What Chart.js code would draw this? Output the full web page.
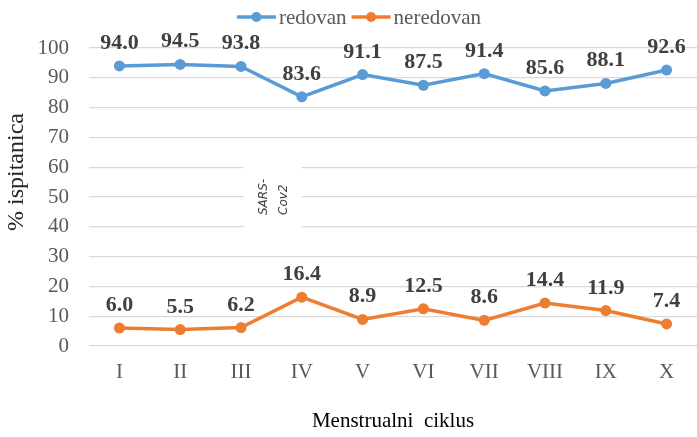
<!DOCTYPE html>
<html>
<head>
<meta charset="utf-8">
<script src="https://cdn.jsdelivr.net/npm/chart.js@4/dist/chart.umd.min.js"></script>
<style>
  html, body { margin: 0; padding: 0; background: #fff; }
  #wrap { width: 697px; height: 437px; }
</style>
</head>
<body>
<div id="wrap"><canvas id="c" width="697" height="437"></canvas></div>
<script>
const categories = ["I", "II", "III", "IV", "V", "VI", "VII", "VIII", "IX", "X"];
const redovan = [94.0, 94.5, 93.8, 83.6, 91.1, 87.5, 91.4, 85.6, 88.1, 92.6];
const neredovan = [6.0, 5.5, 6.2, 16.4, 8.9, 12.5, 8.6, 14.4, 11.9, 7.4];
const seriesNames = ["redovan", "neredovan"];
const yTicks = [0, 10, 20, 30, 40, 50, 60, 70, 80, 90, 100];
const xTitle = "Menstrualni  ciklus";
const yTitle = "% ispitanica";
const noteLines = ["SARS-", "Cov2"];

const BLUE = "#5B9BD5";
const ORANGE = "#ED7D31";
const SERIF = "'Liberation Serif', 'Times New Roman', serif";

const extras = {
  id: "extras",
  afterDatasetsDraw(chart) {
    const ctx = chart.ctx;
    const xs = chart.scales.x, ys = chart.scales.y;
    // SARS-Cov2 note box
    const cx = (xs.getPixelForValue(2) + xs.getPixelForValue(3)) / 2 + 1;
    const yTop = ys.getPixelForValue(67), yBot = ys.getPixelForValue(33);
    ctx.save();
    ctx.fillStyle = "#ffffff";
    ctx.fillRect(cx - 29, yTop, 58, yBot - yTop);
    ctx.translate(cx, ys.getPixelForValue(50));
    ctx.rotate(-Math.PI / 2);
    ctx.fillStyle = "#404040";
    ctx.font = "italic 12px 'DejaVu Sans', 'Noto Sans', sans-serif";
    ctx.textAlign = "left";
    ctx.textBaseline = "middle";
    ctx.fillText(noteLines[0], -18, -9);
    ctx.fillText(noteLines[1], -18, 11);
    ctx.restore();

    // data labels
    ctx.save();
    ctx.font = "bold 22px " + SERIF;
    ctx.fillStyle = "#404040";
    ctx.textAlign = "center";
    ctx.textBaseline = "alphabetic";
    chart.data.datasets.forEach((ds, di) => {
      const meta = chart.getDatasetMeta(di);
      meta.data.forEach((pt, i) => {
        ctx.fillText(ds.data[i].toFixed(1), pt.x, pt.y - 17);
      });
    });
    ctx.restore();
  },
  afterDraw(chart) {
    const ctx = chart.ctx;
    // y title
    ctx.save();
    ctx.translate(17, 172);
    ctx.rotate(-Math.PI / 2);
    ctx.font = "24px " + SERIF;
    ctx.fillStyle = "#262626";
    ctx.textAlign = "center";
    ctx.textBaseline = "middle";
    ctx.fillText(yTitle, 0, 0);
    ctx.restore();

    // legend
    ctx.save();
    ctx.font = "21px " + SERIF;
    ctx.textBaseline = "middle";
    ctx.textAlign = "left";
    const colors = [BLUE, ORANGE];
    const lineW = 39, gap = 3, itemGap = 5;
    const widths = seriesNames.map(n => ctx.measureText(n).width);
    let total = 0;
    widths.forEach(w => total += lineW + gap + w);
    total += itemGap;
    let x = 359 - total / 2;
    const y = 17;
    seriesNames.forEach((n, i) => {
      ctx.strokeStyle = colors[i];
      ctx.lineWidth = 3.5;
      ctx.beginPath();
      ctx.moveTo(x, y);
      ctx.lineTo(x + lineW, y);
      ctx.stroke();
      ctx.fillStyle = colors[i];
      ctx.beginPath();
      ctx.arc(x + lineW / 2, y, 5, 0, Math.PI * 2);
      ctx.fill();
      ctx.fillStyle = "#595959";
      ctx.fillText(n, x + lineW + gap, y + 1);
      x += lineW + gap + widths[i] + itemGap;
    });
    ctx.restore();
  }
};

new Chart(document.getElementById("c"), {
  type: "line",
  data: {
    labels: categories,
    datasets: [
      { label: seriesNames[0], data: redovan, borderColor: BLUE, backgroundColor: BLUE,
        borderWidth: 3.5, pointRadius: 5.5, pointHoverRadius: 5.5, pointBorderWidth: 0, tension: 0, clip: false },
      { label: seriesNames[1], data: neredovan, borderColor: ORANGE, backgroundColor: ORANGE,
        borderWidth: 3.5, pointRadius: 5.5, pointHoverRadius: 5.5, pointBorderWidth: 0, tension: 0, clip: false }
    ]
  },
  options: {
    responsive: false,
    devicePixelRatio: 1,
    animation: false,
    layout: { autoPadding: false, padding: { top: 48, right: 0, bottom: 0, left: 0 } },
    plugins: { legend: { display: false }, tooltip: { enabled: false }, title: { display: false } },
    scales: {
      x: {
        offset: true,
        grid: { display: false, drawTicks: false },
        border: { display: false },
        ticks: { color: "#595959", font: { family: SERIF, size: 21 }, padding: 14, maxRotation: 0, autoSkip: false },
        title: { display: true, text: xTitle, color: "#000000", font: { family: SERIF, size: 21 }, padding: { top: 0, bottom: 3 } },
        afterFit(s) { s.height = 91; s.paddingLeft = 0; s.paddingRight = 0; }
      },
      y: {
        min: 0, max: 100,
        afterBuildTicks(s) { s.ticks = yTicks.map(v => ({ value: v })); },
        grid: { color: "#d9d9d9", lineWidth: 1.3, drawTicks: false },
        border: { display: false },
        ticks: { color: "#595959", font: { family: SERIF, size: 21 }, padding: 20 },
        afterFit(s) { s.width = 89; s.paddingTop = 0; s.paddingBottom = 0; }
      }
    }
  },
  plugins: [extras]
});
</script>
</body>
</html>
